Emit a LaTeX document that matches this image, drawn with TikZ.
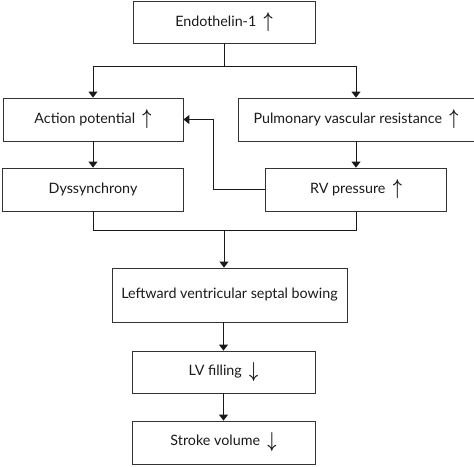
\documentclass[tikz,border=0pt]{standalone}
\usepackage{amsmath}
\usepackage{fontspec}
\setmainfont{Lato}
\usepackage{tikz}
\usetikzlibrary{arrows.meta,calc,positioning}
\definecolor{BoxLine}{HTML}{333333}
\definecolor{Ink}{HTML}{1A1A1A}

\newcommand{\up}{\ \ \raisebox{-1pt}{\scalebox{1.1}[1.5]{\Large$\boldsymbol{\uparrow}$}}}
\newcommand{\down}{\ \ \raisebox{-2pt}{\scalebox{1.1}[1.5]{\Large$\boldsymbol{\downarrow}$}}}

\begin{document}
\begin{tikzpicture}[x=1pt,y=-1pt,
    every node/.style={font=\fontsize{14.3}{17}\selectfont,text=Ink},
    stepbox/.style={draw=BoxLine,line width=0.8pt,fill=white,inner sep=2pt},
    link/.style={draw=Ink,line width=0.9pt},
    arr/.style={link,-{Triangle[width=9pt,length=6pt]}}]
    \useasboundingbox (0,0) rectangle (474,466);
    \node[stepbox,minimum width=182pt,minimum height=42pt] (endo) at (224,22) {Endothelin-1\up};
    \node[stepbox,minimum width=180pt,minimum height=43pt] (ap) at (93,119.5) {Action potential\up};
    \node[stepbox,minimum width=236pt,minimum height=43pt] (pvr) at (356,119.5) {Pulmonary vascular resistance\up};
    \node[stepbox,minimum width=181pt,minimum height=43pt] (dys) at (93,189.5) {Dyssynchrony};
    \node[stepbox,minimum width=181pt,minimum height=43pt] (rv) at (356,189.5) {RV pressure\up};
    \node[stepbox,minimum width=235pt,minimum height=54pt] (lvsb) at (229.5,295) {Leftward ventricular septal bowing};
    \node[stepbox,minimum width=183pt,minimum height=42pt] (lvf) at (223.5,372) {LV filling\down};
    \node[stepbox,minimum width=183pt,minimum height=43pt] (sv) at (223.5,442.5) {Stroke volume\down};
    % split and merge points
    \coordinate (split) at (224,66);
    \coordinate (merge) at (224,230);
    \draw[link] (endo.south) -- (split);
    \draw[arr] (split) -| (ap.north);
    \draw[arr] (split) -| (pvr.north);
    \draw[arr] (ap.south) -- (dys.north);
    \draw[arr] (pvr.south) -- (rv.north);
    \draw[arr] (rv.west) -| ($(ap.east)+(30,0)$) -- (ap.east);
    \draw[link] (dys.south) |- (merge);
    \draw[link] (rv.south) |- (merge);
    \draw[arr] (merge) -- (merge |- lvsb.north);
    \draw[arr] (lvf.north |- lvsb.south) -- (lvf.north);
    \draw[arr] (lvf.south) -- (sv.north);
\end{tikzpicture}
\end{document}
